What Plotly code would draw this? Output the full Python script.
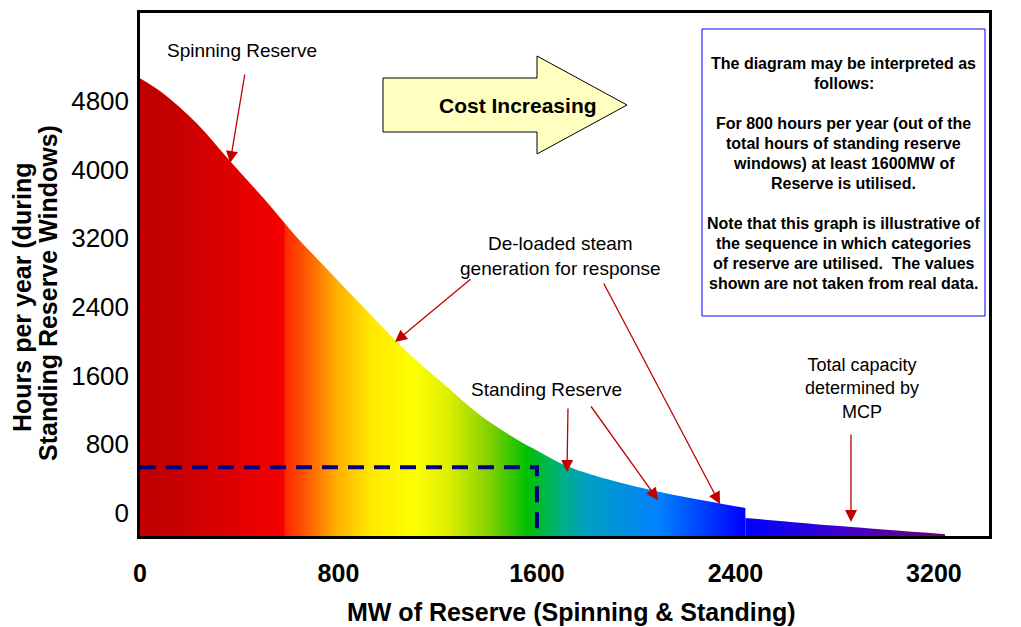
import plotly.graph_objects as go

# Reserve utilisation duration curve
reserve_mw = [0, 90, 230, 360, 500, 630, 770, 900, 1020, 1100, 1240, 1370,
              1530, 1600, 1720, 1910, 2100, 2290, 2440, 2440, 2820, 3245]
hours_per_year = [5330, 5160, 4800, 4375, 3925, 3485, 3060, 2665, 2305, 2080, 1730, 1410,
                  1105, 995, 815, 640, 510, 405, 325, 210, 115, 20]

x_ticks = [0, 800, 1600, 2400, 3200]
y_ticks = [0, 800, 1600, 2400, 3200, 4000, 4800]

# worked example: 800 hours/year at >= 1600 MW
example_mw = 1600
example_hours = 800

# cost-ordered colour ramp along the MW axis
ramp_pos = [0, 0.04, 0.153, 0.178, 0.181, 0.202, 0.245, 0.286, 0.339, 0.381,
            0.435, 0.481, 0.522, 0.553, 0.646, 0.752, 0.87, 1.0]
ramp_col = ['#c00000', '#c40000', '#ee0000', '#f40000', '#ff2800', '#ff5000', '#ffb000',
            '#ffe800', '#ffff00', '#e0f000', '#80d000', '#00c000', '#00b080', '#00a0c0',
            '#0080ff', '#0000ff', '#4000d0', '#700070']

box_lines = [
    "The diagram may be interpreted as", "follows:", "",
    "For 800 hours per year (out of the", "total hours of standing reserve",
    "windows) at least 1600MW of", "Reserve is utilised.", "",
    "Note that this graph is illustrative of", "the sequence in which categories",
    "of reserve are utilised.  The values", "shown are not taken from real data.",
]

W, H = 1021, 627
PL, PR, PT, PB = 140, 989, 13, 536


def px(x):
    return (x - PL) / (PR - PL)


def py(y):
    return (PB - y) / (PB - PT)


FONT = "Arial, Liberation Sans, sans-serif"
RED = "#c00000"

gradient = dict(type="horizontal", start=0, stop=reserve_mw[-1],
                colorscale=[[p, c] for p, c in zip(ramp_pos, ramp_col)])

fig = go.Figure()

# the curve has a step where standing reserve runs out; draw each side smoothly
step = reserve_mw.index(reserve_mw[-4]) + 1
for xs, ys in [(reserve_mw[:step], hours_per_year[:step]),
               (reserve_mw[step:], hours_per_year[step:])]:
    fig.add_trace(go.Scatter(
        x=xs, y=ys, mode="lines",
        line=dict(width=0, color="rgba(0,0,0,0)", shape="spline", smoothing=1.0),
        fill="tozeroy", fillgradient=gradient,
        hoverinfo="skip", showlegend=False,
    ))

fig.add_trace(go.Scatter(
    x=[0, example_mw, example_mw], y=[example_hours, example_hours, -200],
    mode="lines", line=dict(color="#000080", width=4, dash="16px,10px"),
    hoverinfo="skip", showlegend=False,
))

shapes = [
    # "Cost Increasing" block arrow
    dict(type="path", xref="paper", yref="paper",
         path=(f"M{px(383)},{py(78)} L{px(537)},{py(78)} L{px(537)},{py(56)} "
               f"L{px(627)},{py(105)} L{px(537)},{py(154)} L{px(537)},{py(132)} "
               f"L{px(383)},{py(132)} Z"),
         fillcolor="#ffffc0", line=dict(color="#000000", width=1)),
    # explanatory note frame
    dict(type="rect", xref="paper", yref="paper",
         x0=px(702), x1=px(985), y0=py(316), y1=py(29),
         fillcolor="#ffffff", line=dict(color="#0000ff", width=1)),
]

annotations = []


def label(text, x, y, size=19, bold=False, angle=0):
    if bold:
        text = f"<b>{text}</b>"
    annotations.append(dict(
        text=text, x=px(x), y=py(y), xref="paper", yref="paper",
        showarrow=False, textangle=angle, align="center",
        xanchor="center", yanchor="middle",
        font=dict(family=FONT, size=size, color="#000000")))


def pointer(x_tip, y_tip, x_tail, y_tail):
    annotations.append(dict(
        text="", x=px(x_tip), y=py(y_tip), xref="paper", yref="paper",
        ax=x_tail - x_tip, ay=y_tail - y_tip, showarrow=True,
        arrowhead=2, arrowsize=1.85, arrowwidth=1.3, arrowcolor=RED, standoff=0))


label("Spinning Reserve", 242, 50)
label("De-loaded steam<br>generation for response", 560, 256)
label("Standing Reserve", 546, 389)
label("Total capacity<br>determined by<br>MCP", 862, 388, size=18)
label("Cost Increasing", 518, 105, size=21, bold=True)

pointer(230, 163, 245, 73)
pointer(395, 342, 472, 278)
pointer(720, 504, 603, 282)
pointer(567, 472, 568, 407)
pointer(658, 500, 590, 405)
pointer(851, 522, 851, 433)

for i, line in enumerate(box_lines):
    if line:
        label(line, 843.5, 63 + 20 * i, size=16, bold=True)

# y-axis title, two rotated lines
label("Hours per year (during", 22, 297, size=25, bold=True, angle=-90)
label("Standing Reserve Windows)", 48, 293, size=25, bold=True, angle=-90)

# x-axis title
label("MW of Reserve (Spinning & Standing)", 571, 612, size=25, bold=True)

fig.update_layout(
    width=W, height=H,
    margin=dict(l=PL, r=W - PR, t=PT, b=H - PB, autoexpand=False),
    paper_bgcolor="#ffffff", plot_bgcolor="#ffffff",
    shapes=shapes, annotations=annotations,
    xaxis=dict(range=[0, 3422], tickvals=x_ticks, ticktext=[str(v) for v in x_ticks],
               showgrid=False, zeroline=False, ticks="", ticklabelstandoff=13,
               automargin=False,
               tickfont=dict(family=FONT, size=25, color="#000000", weight="bold"),
               showline=True, mirror=True, linecolor="#000000", linewidth=2.5),
    yaxis=dict(range=[0, 6089], tickvals=y_ticks, ticktext=[str(v) for v in y_ticks],
               showgrid=False, zeroline=False, ticks="", ticklabelstandoff=3,
               ticklabelshift=-23, automargin=False,
               tickfont=dict(family=FONT, size=26, color="#000000"),
               showline=True, mirror=True, linecolor="#000000", linewidth=2.5),
)

fig.write_html("out.html")
